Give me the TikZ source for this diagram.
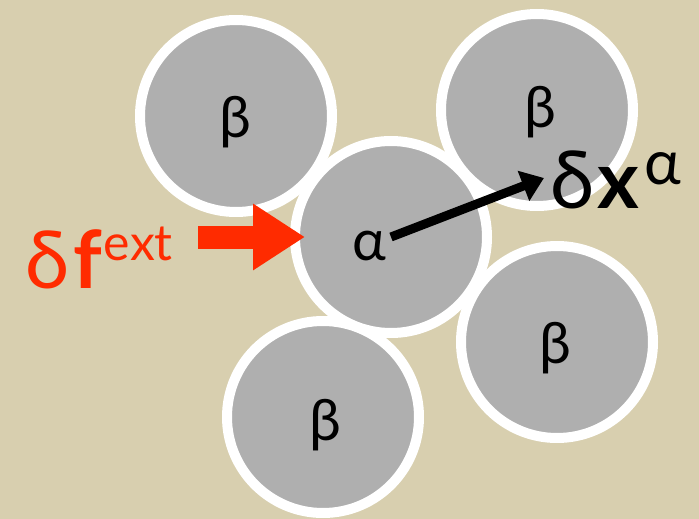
\documentclass[tikz,border=0pt]{standalone}
\usepackage{fontspec}
\setmainfont{Lato}
\usetikzlibrary{arrows.meta}
\definecolor{bgtan}{HTML}{D8CFAF}
\definecolor{disk}{HTML}{AFAFAF}
\definecolor{fred}{HTML}{FF2B00}
\begin{document}
\begin{tikzpicture}[x=1pt,y=-1pt,
  grain/.style={circle, fill=disk, draw=white, line width=10pt, minimum size=192pt, inner sep=0pt},
  glabel/.style={inner sep=0pt, font=\fontsize{57}{64}\selectfont},
  bigtext/.style={inner sep=0pt, anchor=base west, font=\fontsize{80}{86}\selectfont},
  disparrow/.style={line width=9pt, -{Triangle[length=22pt,width=31pt]}},
  forcearrow/.style={draw=fred, line width=23pt, -{Triangle[length=52pt,width=63pt]}}]
\fill[bgtan] (0,0) rectangle (699,519);
\useasboundingbox (0,0) rectangle (699,519);
% grains
\node[grain] (b1) at (236,116) {};
\node[grain] (b2) at (537,110) {};
\node[grain] (b3) at (557,342) {};
\node[grain] (b4) at (323,417) {};
\node[grain] (a)  at (391,237) {};
% labels
\node[glabel] (lb1) at (235,122) {β};
\node[glabel] (lb2) at (540,112) {β};
\node[glabel] (lb3) at (555,348) {β};
\node[glabel] (lb4) at (325,425) {β};
\node[glabel] (la)  at (369,246) {α};
% displacement
\coordinate (dxtip) at (544,178);
\draw[disparrow] (a.center) -- (dxtip);
\node[bigtext] (dx) at (550,208) {δ\hspace{3pt}\textbf{x}\hspace{5pt}\raisebox{24pt}{\fontsize{62}{66}\selectfont α}};
% external force
\coordinate (ftail) at (198,237);
\coordinate (ftip) at (305,237);
\draw[forcearrow] (ftail) -- (ftip);
\node[bigtext, text=fred, font=\fontsize{80}{86}\selectfont] (df) at (25,288) {δ\hspace{4pt}\textbf{f}\hspace{2pt}\raisebox{28pt}{\fontsize{50}{54}\selectfont ext}};
\end{tikzpicture}
\end{document}
